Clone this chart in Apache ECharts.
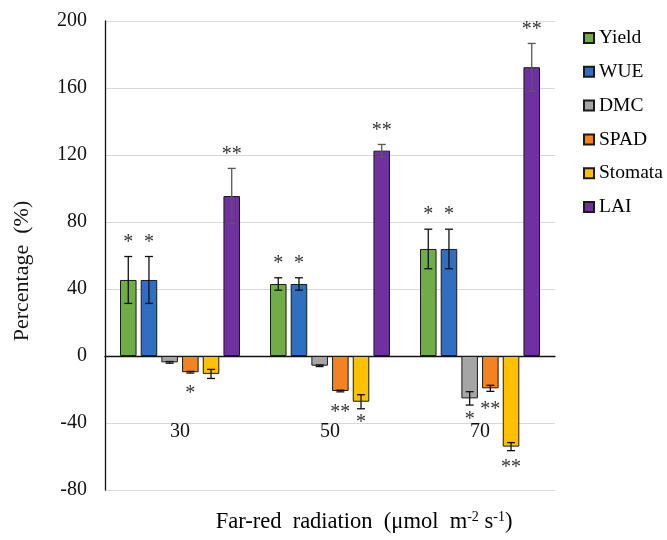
<!DOCTYPE html>
<html>
<head>
<meta charset="utf-8">
<script src="https://cdn.jsdelivr.net/npm/echarts@6/dist/echarts.min.js"></script>
<style>html,body{margin:0;padding:0;background:#fff}#c{width:667px;height:540px}</style>
</head>
<body>
<div id="c"></div>
<script>
const categories = ['30', '50', '70'];
const seriesNames = ['Yield', 'WUE', 'DMC', 'SPAD', 'Stomata', 'LAI'];
const yAxisTicks = [-80, -40, 0, 40, 80, 120, 160, 200];

const yieldVals   = [45.4, 43.0, 63.9];
const wueVals     = [45.4, 43.0, 63.9];
const dmcVals     = [-3.8, -5.8, -25.3];
const spadVals    = [-9.7, -20.9, -19.3];
const stomataVals = [-10.7, -27.3, -54.1];
const laiVals     = [95.5, 122.6, 172.4];

const yieldErr   = [14.0, 3.7, 11.8];
const wueErr     = [14.0, 3.7, 11.8];
const dmcErr     = [0.5, 0.5, 4.0];
const spadErr    = [0.5, 0.5, 1.8];
const stomataErr = [2.7, 4.2, 2.4];
const laiErr     = [16.5, 3.7, 14.2];

const yieldSig   = ['*', '*', '*'];
const wueSig     = ['*', '*', '*'];
const dmcSig     = ['', '', '*'];
const spadSig    = ['*', '**', '**'];
const stomataSig = ['', '*', '**'];
const laiSig     = ['**', '**', '**'];

const colors = ['#70AD47', '#2F6EC0', '#A5A5A5', '#F58220', '#FFC000', '#7030A0'];
const allVals = [yieldVals, wueVals, dmcVals, spadVals, stomataVals, laiVals];
const allErr  = [yieldErr, wueErr, dmcErr, spadErr, stomataErr, laiErr];
const allSig  = [yieldSig, wueSig, dmcSig, spadSig, stomataSig, laiSig];

const FONT = "'Liberation Serif', 'Times New Roman', serif";
const CAT_GAP = 0.2, BAR_GAP = 0.25, NS = seriesNames.length;

const errData = [];
for (let s = 0; s < NS; s++) {
  for (let c = 0; c < categories.length; c++) {
    errData.push([c, allVals[s][c], allErr[s][c], s]);
  }
}

const barSeries = seriesNames.map((n, i) => ({
  name: n, type: 'bar', data: allVals[i],
  barGap: (BAR_GAP * 100) + '%', barCategoryGap: (CAT_GAP * 100) + '%',
  itemStyle: { color: colors[i], borderColor: '#1a1a1a', borderWidth: 1 },
  emphasis: { disabled: true }, z: 2
}));

const errSeries = {
  type: 'custom', name: 'err', silent: true, z: 5,
  encode: { x: 0, y: 1 },
  data: errData,
  renderItem: function (params, api) {
    const c = api.value(0), v = api.value(1), e = api.value(2), s = api.value(3);
    const band = api.size([1, 0])[0];
    const inner = band * (1 - CAT_GAP);
    const w = inner / (NS + (NS - 1) * BAR_GAP);
    const center = api.coord([c, 0])[0];
    const x = center - inner / 2 + w / 2 + s * w * (1 + BAR_GAP);
    const pTop = api.coord([c, v + e])[1];
    const pBot = api.coord([c, v - e])[1];
    const pEnd = api.coord([c, v])[1];
    const col = s === 5 ? '#595959' : '#111';
    const cap = 4;
    const style = { stroke: col, lineWidth: 1.3 };
    const children = [
      { type: 'line', shape: { x1: x, y1: pTop, x2: x, y2: pBot }, style: style },
      { type: 'line', shape: { x1: x - cap, y1: pTop, x2: x + cap, y2: pTop }, style: style },
      { type: 'line', shape: { x1: x - cap, y1: pBot, x2: x + cap, y2: pBot }, style: style }
    ];
    const sig = allSig[s][c];
    if (sig) {
      const pos = v >= 0;
      children.push({
        type: 'text',
        style: {
          text: sig, x: x, y: pos ? pTop - 4 : pEnd + 11.5,
          align: 'center', verticalAlign: pos ? 'bottom' : 'top',
          font: '20px ' + FONT, fill: '#333'
        }
      });
    }
    return { type: 'group', children: children };
  }
};

const chart = echarts.init(document.getElementById('c'), null, { renderer: 'canvas' });
chart.setOption({
  animation: false,
  backgroundColor: '#fff',
  grid: { left: 105, right: 112, top: 21, bottom: 50, containLabel: false, outerBoundsMode: 'none' },
  legend: {
    data: seriesNames, orient: 'vertical', left: 578, top: 23,
    itemWidth: 10, itemHeight: 10, itemGap: 13.8, icon: 'rect',
    textStyle: { fontFamily: FONT, fontSize: 19.5, color: '#000', lineHeight: 19 }
  },
  xAxis: {
    type: 'category', data: categories,
    axisLine: { onZero: true, lineStyle: { color: '#111', width: 1.3 } },
    axisTick: { show: false },
    axisLabel: { margin: -68, fontFamily: FONT, fontSize: 20, color: '#111' },
    splitLine: { show: false }
  },
  yAxis: {
    type: 'value', min: yAxisTicks[0], max: yAxisTicks[yAxisTicks.length - 1], interval: 40,
    axisLine: { show: true, lineStyle: { color: '#111', width: 1.3 } },
    axisTick: { show: false },
    axisLabel: { margin: 18, fontFamily: FONT, fontSize: 20, color: '#111' },
    splitLine: { show: true, lineStyle: { color: '#d9d9d9', width: 1 } }
  },
  graphic: [
    { type: 'text', x: 22, y: 271, rotation: Math.PI / 2,
      style: { text: 'Percentage  (%)', font: '22px ' + FONT, fill: '#111', align: 'center', verticalAlign: 'middle' } },
    { type: 'text', x: 364, y: 522,
      style: {
        text: '{n|Far-red  radiation  (μmol  m}{s|-2}{n| s}{s|-1}{n|)}',
        align: 'center', verticalAlign: 'middle',
        rich: {
          n: { fontFamily: FONT, fontSize: 22.5, color: '#111' },
          s: { fontFamily: FONT, fontSize: 14, color: '#111', verticalAlign: 'top', padding: [0, 0, 8, 0] }
        }
      } }
  ],
  series: barSeries.concat([errSeries])
});
</script>
</body>
</html>
